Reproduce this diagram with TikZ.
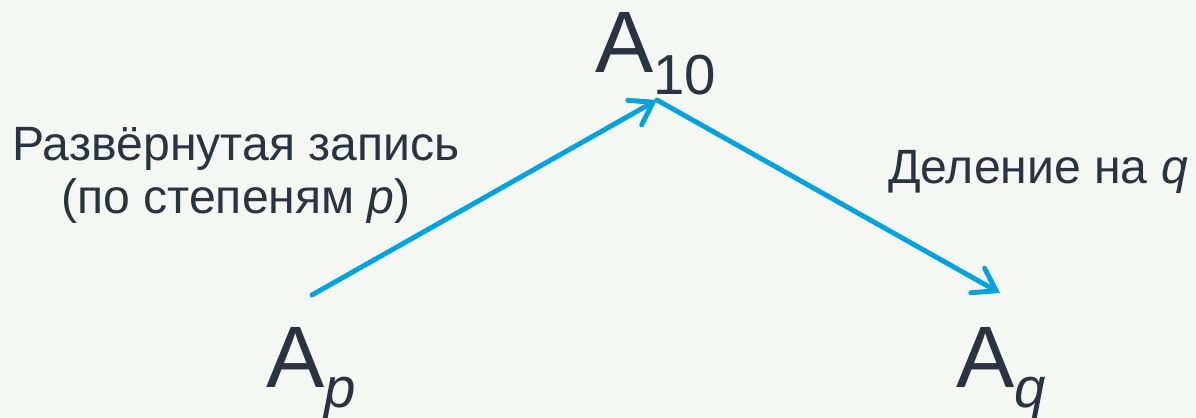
\documentclass[tikz,border=0pt]{standalone}
\usepackage{fontspec}
\setmainfont{Liberation Sans}
\usetikzlibrary{arrows.meta}
\definecolor{bgc}{HTML}{F5F7F2}
\definecolor{txt}{HTML}{2A3342}
\definecolor{arr}{HTML}{00A3DB}
\begin{document}
\begin{tikzpicture}[x=0.567pt,y=-0.567pt,
  big/.style={inner sep=0pt,outer sep=0pt,text=txt,anchor=base west,font=\fontsize{49.5}{49.5}\selectfont},
  lbl/.style={inner sep=0pt,outer sep=0pt,text=txt,font=\fontsize{27.3}{30}\selectfont,align=center},
  conn/.style={draw=arr,line width=2.8pt,line cap=round,-{Straight Barb[length=12pt,width=16pt,line cap=round]}}]
\fill[bgc] (0,0) rectangle (1196,418);
\useasboundingbox (0,0) rectangle (1196,418);
\node[big] (a10) at (595,73) {A\raisebox{-12pt}{\fontsize{32}{32}\selectfont 10}};
\node[big] (ap) at (266,387) {A\raisebox{-11.5pt}{\fontsize{32}{32}\selectfont\itshape p}};
\node[big] (aq) at (956,387) {A\raisebox{-11.5pt}{\fontsize{32}{32}\selectfont\itshape q}};
\coordinate (ps) at (312,295);
\coordinate (top) at (657,100);
\coordinate (qe) at (1000,293);
\draw[conn] (ps) -- (top);
\draw[conn] (top) -- (qe);
\node[lbl,anchor=base] (l1) at (236,213) {Развёрнутая запись\\(по степеням \textit{p})};
\node[lbl,anchor=base east] (l2) at (1188,183) {Деление на \textit{q}};
\end{tikzpicture}
\end{document}
